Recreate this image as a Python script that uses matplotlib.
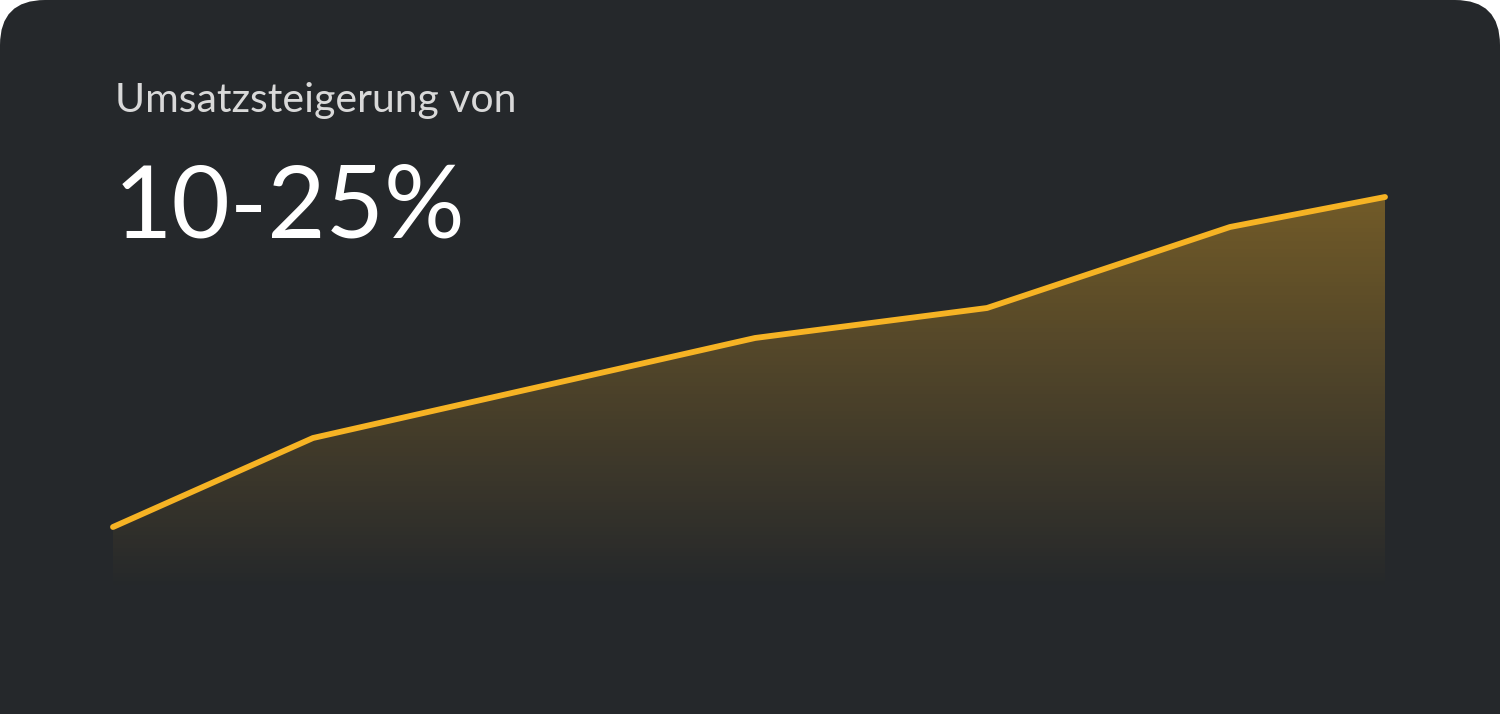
import numpy as np
import matplotlib
matplotlib.use("Agg")
import matplotlib.pyplot as plt
from matplotlib.patches import FancyBboxPatch, Polygon
from matplotlib.colors import LinearSegmentedColormap

# Data (arbitrary units)
x_vals = [0, 200, 642, 874, 1117, 1272]
y_vals = [63, 152, 252, 282, 363, 393]
subtitle = "Umsatzsteigerung von"
headline = "10-25%"

BG = "#25282b"
LINE = "#f6b324"

fig = plt.figure(figsize=(15, 7.14), dpi=100)
fig.patch.set_facecolor("white")
ax = fig.add_axes([0, 0, 1, 1])
ax.set_xlim(-113, 1387)
ax.set_ylim(-124, 590)
ax.axis("off")

card = FancyBboxPatch((-113, -400), 1500, 990,
                      boxstyle="round,pad=0,rounding_size=45",
                      facecolor=BG, edgecolor="none", zorder=0)
ax.add_patch(card)

# gradient fill under the line
xs = np.array(x_vals, dtype=float)
ys = np.array(y_vals, dtype=float)
ytop = ys.max()
poly = Polygon(np.column_stack([np.r_[xs, xs[-1], xs[0]], np.r_[ys, 0, 0]]),
               closed=True, facecolor="none", edgecolor="none")
ax.add_patch(poly)
cmap = LinearSegmentedColormap.from_list(
    "g", [(0, (0.965, 0.70, 0.14, 0.0)), (1, (0.965, 0.70, 0.14, 0.37))])
grad = np.linspace(0, 1, 256).reshape(-1, 1)
im = ax.imshow(grad, cmap=cmap, origin="lower", aspect="auto",
               extent=[xs[0], xs[-1], 0, ytop], zorder=1, interpolation="bilinear")
im.set_clip_path(poly)

ax.plot(xs, ys, color=LINE, lw=4.2, solid_capstyle="round",
        solid_joinstyle="round", zorder=2)

fig.text(115 / 1500, 1 - 112 / 714, subtitle, fontsize=29.5, color="#d9d9d9",
         family="Lato", fontweight="normal", ha="left", va="baseline")
fig.text(114 / 1500, 1 - 238 / 714, headline, fontsize=72.5, color="white",
         family="Lato", fontweight="normal", ha="left", va="baseline")

fig.savefig("out.png", dpi=100, facecolor="white")
